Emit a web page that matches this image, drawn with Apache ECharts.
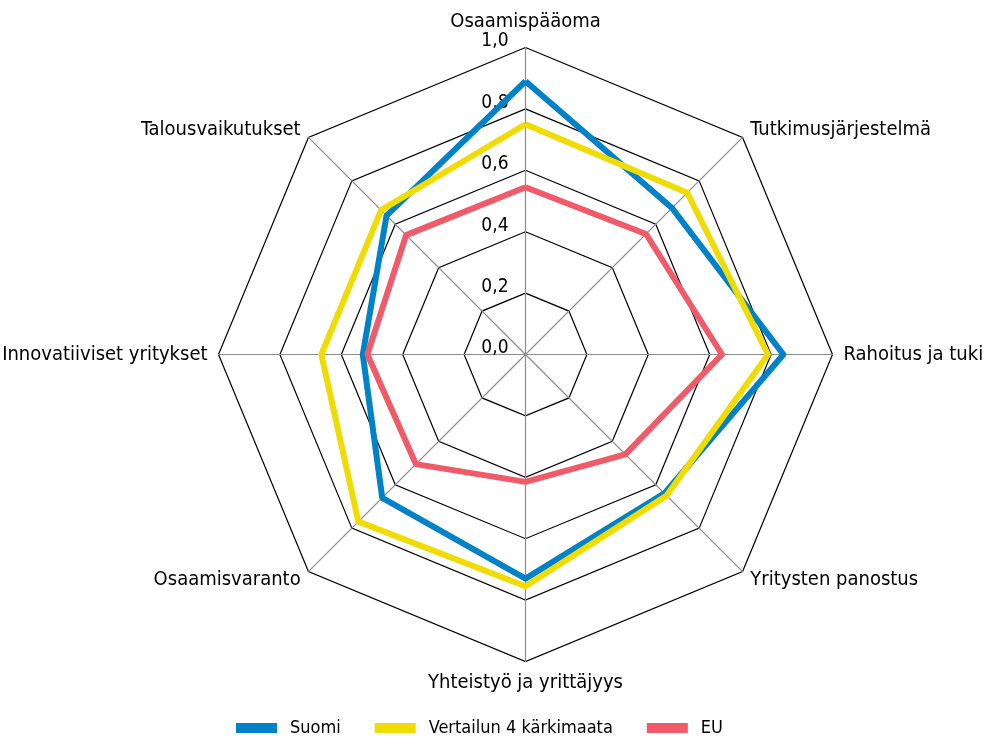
<!DOCTYPE html>
<html>
<head>
<meta charset="utf-8">
<script src="https://cdn.jsdelivr.net/npm/echarts@6/dist/echarts.min.js"></script>
<style>
  html, body { margin: 0; padding: 0; background: #fff; }
  #chart { width: 989px; height: 742px; }
</style>
</head>
<body>
<div id="chart"></div>
<script>
  // indikaattorit vastapäivään ylhäältä alkaen
  var indicators = [
    'Osaamispääoma',
    'Talousvaikutukset',
    'Innovatiiviset yritykset',
    'Osaamisvaranto',
    'Yhteistyö ja yrittäjyys',
    'Yritysten panostus',
    'Rahoitus ja tuki',
    'Tutkimusjärjestelmä'
  ]
  var seriesNames = ['Suomi', 'Vertailun 4 kärkimaata', 'EU']
  var suomi = [0.89, 0.64, 0.53, 0.66, 0.73, 0.64, 0.84, 0.675]
  var karkimaat = [0.75, 0.665, 0.665, 0.77, 0.755, 0.65, 0.79, 0.745]
  var eu = [0.545, 0.55, 0.515, 0.505, 0.415, 0.46, 0.64, 0.555]
  var colors = ['#0082c8', '#f0dc00', '#f05a69']

  var font = '"DejaVu Sans Condensed", sans-serif'

  var chart = echarts.init(document.getElementById('chart'))
  var option = {
    animation: false,
    color: colors,
    textStyle: { fontFamily: font },
    legend: {
      left: 231,
      top: 714,
      icon: 'rect',
      itemWidth: 41,
      itemHeight: 10,
      itemGap: 34,
      textStyle: { fontSize: 18, color: '#000', fontFamily: font, padding: [0, 0, 0, 8] },
      data: seriesNames
    },
    radar: {
      center: [525.5, 354.5],
      radius: 307,
      startAngle: 90,
      shape: 'polygon',
      splitNumber: 5,
      axisName: {
        color: '#000',
        fontSize: 20,
        fontFamily: font
      },
      nameGap: 11,
      indicator: indicators.map(function (name, i) {
        var ind = { name: name, min: 0, max: 1 }
        if (i === 0) {
          // asteikon luvut vain pystyakselille
          ind.axisLabel = {
            show: true,
            color: '#000',
            fontSize: 19,
            fontFamily: font,
            margin: 17,
            formatter: function (v) { return '{t|' + v.toFixed(1).replace('.', ',') + '}' },
            rich: {
              t: { fontSize: 19, fontFamily: font, color: '#000', padding: [0, 0, 12, 0] }
            }
          }
        }
        return ind
      }),
      axisLine: { lineStyle: { color: '#8c8c8c', width: 1.2 } },
      splitLine: { lineStyle: { color: '#000', width: 1.2 } },
      splitArea: { show: false }
    },
    series: [{
      type: 'radar',
      symbol: 'none',
      lineStyle: { width: 6 },
      data: [
        { name: seriesNames[0], value: suomi, lineStyle: { color: colors[0], width: 6 } },
        { name: seriesNames[1], value: karkimaat, lineStyle: { color: colors[1], width: 6 } },
        { name: seriesNames[2], value: eu, lineStyle: { color: colors[2], width: 6 } }
      ]
    }]
  }
  chart.setOption(option)
</script>
</body>
</html>
